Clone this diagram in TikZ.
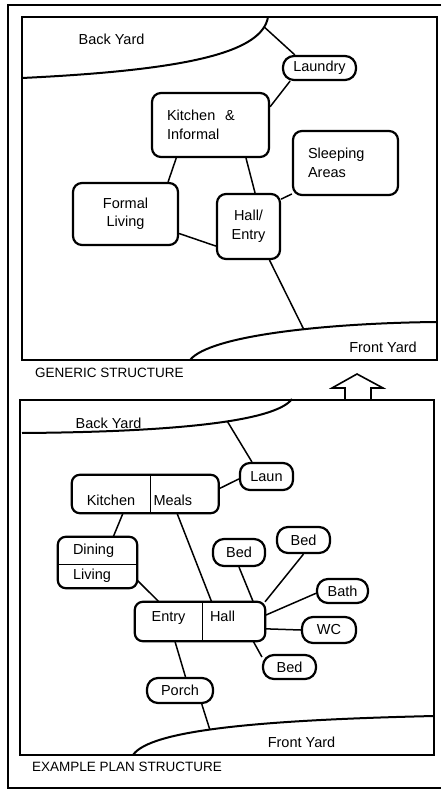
\documentclass[tikz,border=0pt]{standalone}
\usepackage{fontspec}
\setmainfont{Liberation Sans}
\newcommand{\roomfont}{\fontsize{14.5}{18.5}\selectfont}
\newcommand{\capfont}{\fontsize{13.5}{16}\selectfont}
\tikzset{
  room/.style={draw, line width=2.2pt, rounded corners=9pt, inner sep=0pt, align=center, font=\roomfont},
  pill/.style={room, rounded corners=11pt},
  part/.style={inner sep=0pt, font=\roomfont},
  roombox/.style={draw, line width=2.2pt, rounded corners=8pt},
  link/.style={line width=1.5pt},
  yard/.style={line width=2pt},
  yardtext/.style={inner sep=0pt, font=\roomfont},
  caption/.style={inner sep=0pt, anchor=west, font=\capfont}
}
\begin{document}
\begin{tikzpicture}[x=1pt,y=-1pt]
    \useasboundingbox[fill=white] (0,0) rectangle (441,791);
    \draw[line width=1.2pt] (441,5) -- (8,5) -- (8,788) -- (441,788);

    % generic structure
    \draw[line width=2pt] (22,17) rectangle (437,360);
    \draw[yard] (22,78) .. controls (190,70) and (262,52) .. (268,17) coordinate[pos=0.9] (bytop);
    \draw[yard] (190,360) .. controls (210,335) and (330,323) .. (437,322) coordinate[pos=0.58] (fytop);
    \node[yardtext] (backyardA) at (111.5,39) {Back Yard};
    \node[yardtext] (frontyardA) at (383,347) {Front Yard};
    \node[pill, minimum width=73, minimum height=24] (laundry) at (319.5,68) {Laundry};
    \node[room, minimum height=64, text width=87pt, inner xsep=15pt, align=left] (kitchen) at (210.5,125) {Kitchen\ \ \&\\Informal};
    \node[room, minimum height=64, text width=75pt, inner xsep=15pt, align=left] (sleeping) at (345.5,163) {Sleeping\\Areas};
    \node[room, minimum width=105, minimum height=62] (formal) at (125.5,214) {Formal\\Living};
    \node[room, minimum width=63, minimum height=65] (hall) at (248.5,226.5) {Hall/\\Entry};
    \draw[link] (bytop) -- (laundry.152);
    \draw[link] (laundry.204) -- (kitchen.17);
    \draw[link] (kitchen.224) -- (formal.37);
    \draw[link] (kitchen.-43) -- (hall.79);
    \draw[link] (formal.-20) -- (hall.211);
    \draw[link] (sleeping.210) -- (hall.40);
    \draw[link] (hall.-58) -- (fytop);
    \node[caption] (generic) at (35,373) {GENERIC STRUCTURE};

    % hollow arrow up
    \draw[line width=1.6pt, line join=miter] (345,400) -- (345,388) -- (332,388) -- (357,374)
      -- (383,388) -- (371,388) -- (371,400);

    % example plan structure
    \draw[line width=2pt] (20,400) rectangle (434,755);
    \draw[yard] (22,433) .. controls (170,432) and (275,422) .. (292,399) coordinate[pos=0.58] (bybot);
    \draw[yard] (133,755) .. controls (150,730) and (260,720) .. (434,716) coordinate[pos=0.45] (fybot);
    \node[yardtext] (backyardB) at (108.5,423) {Back Yard};
    \node[yardtext] (frontyardB) at (301.5,742) {Front Yard};
    \node[room, rounded corners=10pt, minimum width=53, minimum height=27] (laun) at (266.5,476.5) {Laun};
    \node[part, minimum width=78, minimum height=38, text height=22pt, text depth=0pt] (kit) at (111,494) {Kitchen};
    \node[part, minimum height=38, text height=22pt, text depth=0pt, text width=58pt, inner xsep=7pt, align=left] (meals) at (182.5,494) {Meals};
    \draw[roombox] (kit.north west) rectangle (meals.south east);
    \draw[line width=1.4pt] (kit.north east) -- (kit.south east);
    \node[part, minimum height=27, text width=49pt, inner xsep=15pt, align=left] (dining) at (97.5,550.5) {Dining};
    \node[part, minimum height=24, text width=49pt, inner xsep=15pt, align=left] (living) at (97.5,576) {Living};
    \draw[roombox] (dining.north west) rectangle (living.south east);
    \draw[line width=1.4pt] (dining.south west) -- (dining.south east);
    \node[part, minimum width=67, minimum height=39, text height=6pt, text depth=6pt] (entry) at (168.5,621.5) {Entry};
    \node[part, minimum height=39, text height=6pt, text depth=6pt, text width=47pt, inner xsep=8pt, align=left] (hallB) at (233.5,621.5) {Hall};
    \draw[roombox] (entry.north west) rectangle (hallB.south east);
    \draw[line width=1.4pt] (entry.north east) -- (entry.south east);
    \node[pill, minimum width=52, minimum height=27] (bedA) at (239,552.5) {Bed};
    \node[pill, minimum width=53, minimum height=26] (bedB) at (303.5,540) {Bed};
    \node[pill, minimum width=51, minimum height=24] (bath) at (342.5,591) {Bath};
    \node[pill, minimum width=54, minimum height=26] (wc) at (329,630) {WC};
    \node[pill, minimum width=53, minimum height=24] (bedC) at (289.5,667) {Bed};
    \node[pill, minimum width=66, minimum height=25] (porch) at (180,690.5) {Porch};
    \draw[link] (bybot) -- (laun.135);
    \draw[link] (laun.185) -- (meals.8);
    \draw[link] (kit.-58) -- (dining.41);
    \draw[link] (meals.254) -- (hallB.138);
    \draw[link] (living.-6) -- (entry.116);
    \draw[link] (bedA.south) -- (hallB.45);
    \draw[link] (bedB.south) -- (hallB.32);
    \draw[link] (bath.185) -- (hallB.11);
    \draw[link] (wc.west) -- (hallB.-13);
    \draw[link] (hallB.-45) -- (bedC.160);
    \draw[link] (entry.-72) -- (porch.68);
    \draw[link] (porch.-32) -- (fybot);
    \node[caption] (example) at (32,767) {EXAMPLE PLAN STRUCTURE};
\end{tikzpicture}
\end{document}
